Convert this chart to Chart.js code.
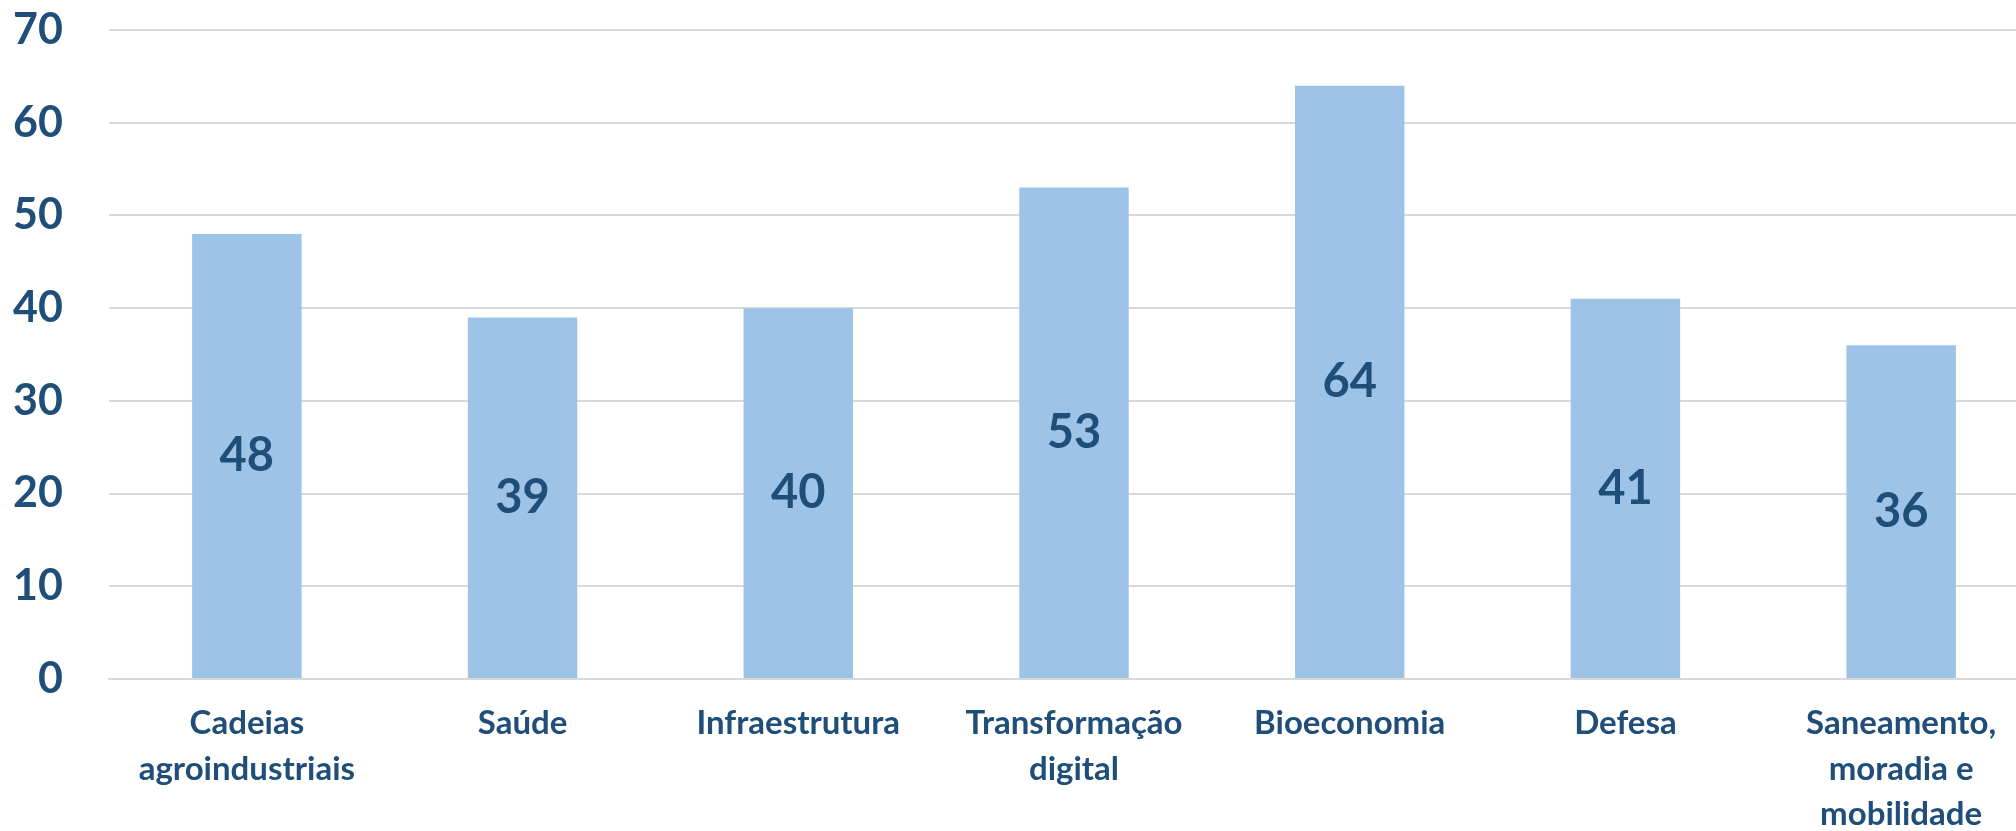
<!DOCTYPE html>
<html>
<head>
<meta charset="utf-8">
<script src="https://cdn.jsdelivr.net/npm/chart.js@4"></script>
<style>
    body { margin: 0; background: #fff; overflow: hidden; }
    /* plot area runs slightly past the right edge, like the cropped original */
    #wrap { width: 2039px; height: 831px; }
</style>
</head>
<body>
<div id="wrap"><canvas id="myChart"></canvas></div>
<script>
// Data
const categories = [
    ['Cadeias', 'agroindustriais'],
    'Saúde',
    'Infraestrutura',
    ['Transformação', 'digital'],
    'Bioeconomia',
    'Defesa',
    ['Saneamento,', 'moradia e', 'mobilidade']
];
const values = [48, 39, 40, 53, 64, 41, 36];
const yTicks = [0, 10, 20, 30, 40, 50, 60, 70];

const TEXT_COLOR = '#1F4E79';
const BAR_COLOR = '#9DC3E6';
const GRID_COLOR = '#D9D9D9';
const FONT = 'Lato, Calibri, Arial, sans-serif';

// values inside bars, centred
const barLabels = {
    id: 'barLabels',
    afterDatasetsDraw(chart) {
        const ctx = chart.ctx;
        const meta = chart.getDatasetMeta(0);
        ctx.save();
        ctx.fillStyle = TEXT_COLOR;
        ctx.font = 'bold 47px ' + FONT;
        ctx.textAlign = 'center';
        ctx.textBaseline = 'middle';
        meta.data.forEach((bar, i) => {
            const y = (bar.y + bar.base) / 2;
            ctx.fillText(String(chart.data.datasets[0].data[i]), bar.x, y);
        });
        ctx.restore();
    }
};

// no extra padding from the tick labels, the plot area is set by hand
function noPadding(scale) {
    scale.paddingTop = 0;
    scale.paddingBottom = 0;
    scale.paddingLeft = 0;
    scale.paddingRight = 0;
}

const config = {
    type: 'bar',
    data: {
        labels: categories,
        datasets: [{
            data: values,
            backgroundColor: BAR_COLOR,
            barPercentage: 0.397,
            categoryPercentage: 1.0,
        }]
    },
    options: {
        responsive: true,
        maintainAspectRatio: false,
        animation: false,
        layout: { padding: { top: 30, right: 0, left: 0, bottom: 0 } },
        plugins: {
            legend: { display: false },
            tooltip: { enabled: false }
        },
        scales: {
            x: {
                grid: { display: false, drawTicks: false },
                border: { display: true, color: GRID_COLOR, width: 2 },
                ticks: {
                    color: TEXT_COLOR,
                    font: { family: FONT, size: 33, weight: 'bold', lineHeight: 1.38 },
                    padding: 22,
                    maxRotation: 0,
                    autoSkip: false
                },
                afterFit(scale) {
                    scale.height = 152;
                    noPadding(scale);
                }
            },
            y: {
                min: 0,
                max: 70,
                afterBuildTicks(scale) { scale.ticks = yTicks.map(v => ({ value: v })); },
                grid: { color: GRID_COLOR, lineWidth: 2, drawTicks: false },
                border: { display: false },
                ticks: {
                    color: TEXT_COLOR,
                    font: { family: FONT, size: 43, weight: 'bold' },
                    padding: 46
                },
                afterFit(scale) {
                    scale.width = 109;
                    noPadding(scale);
                }
            }
        }
    },
    plugins: [barLabels]
};

const myChart = new Chart(document.getElementById('myChart'), config);
</script>
</body>
</html>
